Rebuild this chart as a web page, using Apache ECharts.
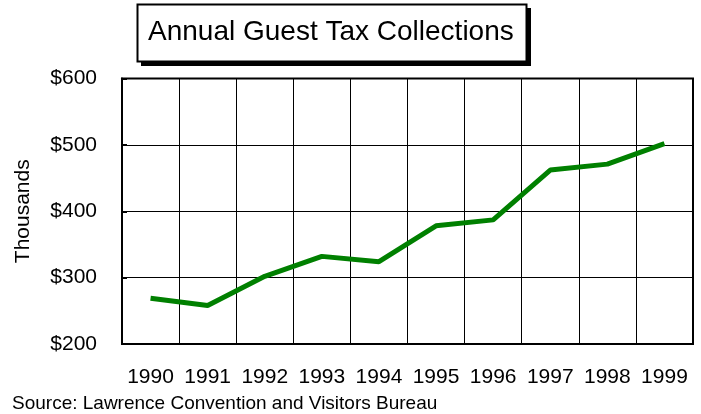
<!DOCTYPE html>
<html>
<head>
<meta charset="utf-8">
<script src="https://cdn.jsdelivr.net/npm/echarts@6/dist/echarts.min.js"></script>
<style>
html,body{margin:0;padding:0;background:#fff;}
#chart{width:701px;height:414px;}
</style>
</head>
<body>
<div id="chart"></div>
<script>
const years = ['1990','1991','1992','1993','1994','1995','1996','1997','1998','1999'];
const collections = [269, 258, 302, 332, 324, 378, 387, 462, 471, 502];
const yTicks = [200, 300, 400, 500, 600];
const titleText = 'Annual Guest Tax Collections';
const yName = 'Thousands';
const sourceText = 'Source: Lawrence Convention and Visitors Bureau';

const FONT = '"Liberation Sans", Arial, sans-serif';
const chart = echarts.init(document.getElementById('chart'), null, {renderer: 'canvas'});
chart.setOption({
  backgroundColor: '#fff',
  animation: false,
  grid: {left: 122, right: 8, top: 78.5, bottom: 70, show: true, borderColor: '#000', borderWidth: 2, backgroundColor: 'transparent'},
  xAxis: [{
    type: 'category', data: years, boundaryGap: true, position: 'bottom',
    axisLine: {lineStyle: {color: '#000', width: 2}},
    axisTick: {inside: true, length: 5, interval: 0, lineStyle: {color: '#000', width: 2}},
    axisLabel: {color: '#000', fontFamily: FONT, fontSize: 21, margin: 23, interval: 0},
    splitLine: {show: true, interval: 0, lineStyle: {color: '#000', width: 1}}
  }, {
    type: 'category', data: years, boundaryGap: true, position: 'bottom',
    axisLine: {show: false},
    axisTick: {inside: true, length: 5, interval: 0, alignWithLabel: true, lineStyle: {color: '#000', width: 2}},
    axisLabel: {show: false},
    splitLine: {show: false}
  }],
  yAxis: {
    type: 'value', min: yTicks[0], max: yTicks[yTicks.length - 1], interval: 100,
    name: yName, nameLocation: 'middle', nameRotate: 90, nameGap: 88,
    nameTextStyle: {color: '#000', fontFamily: FONT, fontSize: 21},
    axisLine: {show: true, lineStyle: {color: '#000', width: 2}},
    axisTick: {show: true, inside: true, length: 5, lineStyle: {color: '#000', width: 2}},
    axisLabel: {color: '#000', fontFamily: FONT, fontSize: 21, margin: 25, formatter: v => '$' + v},
    splitLine: {show: true, lineStyle: {color: '#000', width: 1}}
  },
  series: [{
    type: 'line', data: collections, xAxisIndex: 0,
    symbol: 'none', lineStyle: {color: '#008000', width: 5}, itemStyle: {color: '#008000'}
  }],
  graphic: [
    {type: 'rect', shape: {x: 141, y: 8, width: 390, height: 58}, style: {fill: '#000'}, z: 10},
    {type: 'rect', shape: {x: 137.5, y: 4.5, width: 389, height: 57}, style: {fill: '#fff', stroke: '#000', lineWidth: 2}, z: 11},
    {type: 'text', x: 148, y: 32, style: {text: titleText, font: '28px ' + FONT, fill: '#000', textVerticalAlign: 'middle'}, z: 12},
    {type: 'text', x: 12, y: 404, style: {text: sourceText, font: '19px ' + FONT, fill: '#000', textVerticalAlign: 'middle'}, z: 12}
  ]
});
</script>
</body>
</html>
